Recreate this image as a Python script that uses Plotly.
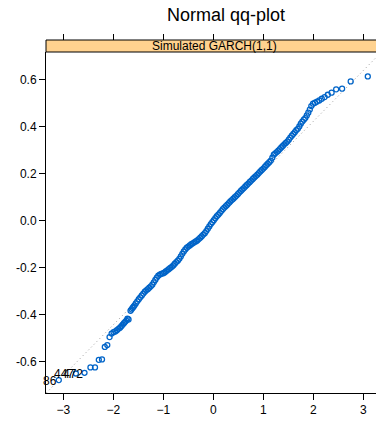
import plotly.graph_objects as go

# Theoretical normal quantiles (x) and sorted sample values (y)
theo_q = [-3.09, -2.748, -2.576, -2.457, -2.366, -2.29, -2.226, -2.17, -2.12, -2.075,
          -2.034, -1.995, -1.96, -1.927, -1.896, -1.866, -1.838, -1.812, -1.787, -1.762,
          -1.739, -1.717, -1.695, -1.655, -1.635, -1.615, -1.595, -1.575, -1.55, -1.52,
          -1.49, -1.46, -1.43, -1.40, -1.37, -1.34, -1.31, -1.28, -1.25, -1.22,
          -1.19, -1.16, -1.13, -1.10, -1.07, -1.04, -1.01, -0.98, -0.95, -0.92,
          -0.89, -0.86, -0.83, -0.80, -0.77, -0.74, -0.71, -0.68, -0.65, -0.62,
          -0.59, -0.56, -0.53, -0.50, -0.47, -0.44, -0.41, -0.38, -0.35, -0.32,
          -0.29, -0.26, -0.23, -0.20, -0.17, -0.14, -0.11, -0.08, -0.05, -0.02,
          0.01, 0.04, 0.07, 0.10, 0.13, 0.16, 0.19, 0.22, 0.25, 0.28,
          0.31, 0.34, 0.37, 0.40, 0.43, 0.46, 0.49, 0.52, 0.55, 0.58,
          0.61, 0.64, 0.67, 0.70, 0.73, 0.76, 0.79, 0.82, 0.85, 0.88,
          0.91, 0.94, 0.97, 1.00, 1.03, 1.06, 1.09, 1.12, 1.15, 1.18,
          1.21, 1.24, 1.27, 1.30, 1.33, 1.36, 1.39, 1.42, 1.45, 1.48,
          1.51, 1.54, 1.57, 1.60, 1.63, 1.66, 1.69, 1.72, 1.75, 1.78,
          1.81, 1.84, 1.87, 1.90, 1.93, 1.96, 1.995, 2.034, 2.075, 2.12,
          2.17, 2.226, 2.29, 2.366, 2.457, 2.576, 2.748, 3.09]
sample_q = [-0.678, -0.650, -0.647, -0.624, -0.624, -0.592, -0.590, -0.537, -0.529, -0.495,
            -0.480, -0.474, -0.471, -0.466, -0.460, -0.455, -0.449, -0.442, -0.436, -0.430,
            -0.425, -0.417, -0.420, -0.383, -0.377, -0.371, -0.366, -0.360, -0.352, -0.343,
            -0.334, -0.326, -0.318, -0.310, -0.302, -0.296, -0.291, -0.285, -0.279, -0.272,
            -0.262, -0.252, -0.242, -0.234, -0.229, -0.226, -0.224, -0.221, -0.216, -0.211,
            -0.206, -0.201, -0.196, -0.190, -0.183, -0.176, -0.170, -0.162, -0.152, -0.141,
            -0.131, -0.122, -0.115, -0.110, -0.105, -0.100, -0.096, -0.092, -0.088, -0.084,
            -0.078, -0.072, -0.066, -0.059, -0.053, -0.044, -0.034, -0.024, -0.014, -0.006,
            0.002, 0.011, 0.019, 0.026, 0.033, 0.041, 0.049, 0.056, 0.062, 0.068,
            0.075, 0.082, 0.088, 0.094, 0.100, 0.106, 0.113, 0.120, 0.127, 0.133,
            0.139, 0.146, 0.152, 0.158, 0.165, 0.171, 0.178, 0.184, 0.190, 0.196,
            0.203, 0.210, 0.216, 0.222, 0.229, 0.236, 0.243, 0.249, 0.256, 0.268,
            0.281, 0.287, 0.292, 0.298, 0.305, 0.312, 0.318, 0.325, 0.331, 0.337,
            0.345, 0.354, 0.362, 0.369, 0.377, 0.385, 0.391, 0.401, 0.413, 0.422,
            0.430, 0.437, 0.448, 0.460, 0.473, 0.488, 0.498, 0.502, 0.507, 0.512,
            0.519, 0.526, 0.536, 0.545, 0.559, 0.562, 0.593, 0.614]

# Labelled extreme observations (index into the sorted arrays above)
id_labels = ["86", "447", "472"]
id_positions = [0, 1, 2]

# Reference (qq) line parameters
qq_intercept = -0.010
qq_slope = 0.2164

x_ticks = [-3, -2, -1, 0, 1, 2, 3]
y_ticks = [-0.6, -0.4, -0.2, 0.0, 0.2, 0.4, 0.6]
y_tick_text = ["-0.6", "-0.4", "-0.2", "0.0", "0.2", "0.4", "0.6"]

x_range = [-3.346, 3.254]
y_range = [-0.733, 0.718]

FONT = "Liberation Sans, Arial, sans-serif"
W, H = 376, 421
m_l, m_r, m_t, m_b = 46, 0, 40, 28
plot_h = H - m_t - m_b
strip_h = 12
y_dom_top = (plot_h - strip_h) / plot_h

fig = go.Figure()

line_x = [x_range[0] - 0.5, x_range[1] + 0.5]
line_y = [qq_intercept + qq_slope * v for v in line_x]
fig.add_trace(go.Scatter(x=line_x, y=line_y, mode="lines",
                         line=dict(color="#9a9a9a", width=1, dash="1px,3px"),
                         hoverinfo="skip", showlegend=False))

fig.add_trace(go.Scatter(x=theo_q, y=sample_q, mode="markers",
                         marker=dict(symbol="circle-open", size=5, color="#0064C8",
                                     line=dict(width=1.3, color="#0064C8")),
                         showlegend=False))

# dummy trace on top axis so its ticks render
fig.add_trace(go.Scatter(x=[theo_q[0]], y=[sample_q[0]], xaxis="x2", mode="markers",
                         marker=dict(opacity=0), hoverinfo="skip", showlegend=False))

for lab, idx in zip(id_labels, id_positions):
    fig.add_annotation(x=theo_q[idx], y=sample_q[idx], text=lab, showarrow=False,
                       xanchor="right", yanchor="middle", xshift=0, yshift=-1,
                       font=dict(family=FONT, size=12, color="#000000"))

# strip
fig.add_shape(type="rect", xref="paper", yref="paper", x0=0, x1=1.05,
              y0=y_dom_top, y1=1.0, fillcolor="#FFD28F",
              line=dict(color="#000000", width=1), layer="above")
fig.add_annotation(xref="x", yref="paper", x=0.02, y=(y_dom_top + 1) / 2,
                   text="Simulated GARCH(1,1)", showarrow=False,
                   xanchor="center", yanchor="middle",
                   font=dict(family=FONT, size=12, color="#000000"))

fig.update_layout(
    width=W, height=H,
    margin=dict(l=m_l, r=m_r, t=m_t, b=m_b, pad=0),
    paper_bgcolor="white", plot_bgcolor="white",
    title=dict(text="Normal qq-plot", xref="paper", x=(226 - m_l) / (W - m_l - m_r),
               xanchor="center", yref="container", y=1 - 15 / H, yanchor="middle",
               font=dict(family=FONT, size=18, color="#000000")),
    xaxis=dict(range=x_range, tickvals=x_ticks, ticks="outside", ticklen=6,
               tickcolor="#000000", tickwidth=1, showline=True, linecolor="#000000",
               linewidth=1, showgrid=False, zeroline=False, anchor="y",
               tickfont=dict(family=FONT, size=12, color="#000000")),
    xaxis2=dict(range=x_range, tickvals=x_ticks, overlaying="x", side="top",
                anchor="free", position=1.0, ticks="outside", ticklen=6,
                tickcolor="#000000", tickwidth=1, showticklabels=False,
                showline=False, showgrid=False, zeroline=False),
    yaxis=dict(range=y_range, domain=[0, y_dom_top], tickvals=y_ticks,
               ticktext=y_tick_text, ticks="outside", ticklen=6,
               tickcolor="#000000", tickwidth=1, showline=True, linecolor="#000000",
               linewidth=1, showgrid=False, zeroline=False,
               tickfont=dict(family=FONT, size=12, color="#000000")),
    showlegend=False,
)

fig.write_html("out.html")
